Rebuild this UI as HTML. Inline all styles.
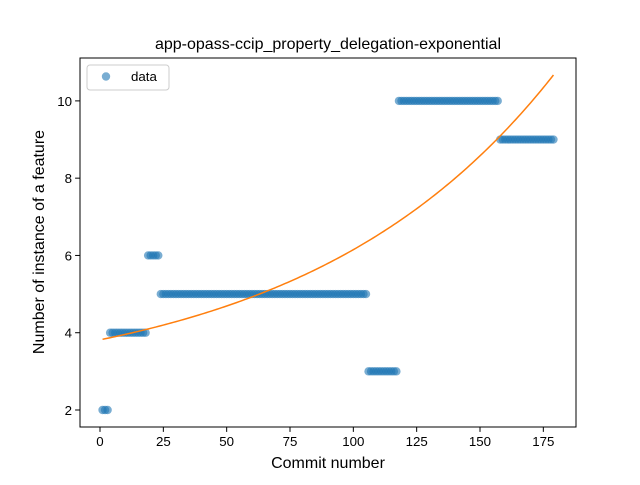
<!DOCTYPE html>
<html><head><meta charset="utf-8"><style>
html,body{margin:0;padding:0;background:#fff;}
svg text{font-family:"Liberation Sans","DejaVu Sans",sans-serif;fill:#000;}
</style></head><body>
<svg id="chart" width="640" height="480" xmlns="http://www.w3.org/2000/svg">
<rect width="640" height="480" fill="#fff"/>
<text x="328" y="49" font-size="16" text-anchor="middle">app-opass-ccip_property_delegation-exponential</text>
<g id="marks"></g>
<rect x="80" y="58" width="496" height="369" fill="none" stroke="#000" stroke-width="1"/>
<g id="axes"></g>
<text x="328" y="468" font-size="16" text-anchor="middle">Commit number</text>
<text transform="translate(44,242) rotate(-90)" font-size="16" text-anchor="middle">Number of instance of a feature</text>
<g>
<rect x="87" y="65" width="82" height="25" rx="3" fill="#fff" fill-opacity="0.8" stroke="#ccc"/>
<circle cx="106" cy="76.5" r="4.2" fill="#1f77b4" fill-opacity="0.6"/>
<text x="131" y="81" font-size="13.3">data</text>
</g>
</svg>
<script>
const segStarts=[1,4,19,24,106,118,158];
const segEnds=[3,18,23,105,117,157,179];
const segValues=[2,4,6,5,3,10,9];
const fitA=[1.316];
const fitB=[0.0102];
const fitC=[2.5];
const xTicks=[0,25,50,75,100,125,150,175];
const yTicks=[2,4,6,8,10];
const X0=-7.9,X1=187.9,Y0=1.56,Y1=11.11;
const L=80,R=576,T=58,B=427;
const sx=v=>L+(v-X0)/(X1-X0)*(R-L);
const sy=v=>B-(v-Y0)/(Y1-Y0)*(B-T);
const NS="http://www.w3.org/2000/svg";
const marks=document.getElementById('marks');
const axes=document.getElementById('axes');
function mk(tag,attrs,parent){const e=document.createElementNS(NS,tag);for(const k in attrs)e.setAttribute(k,attrs[k]);parent.appendChild(e);return e;}
for(let s=0;s<segStarts.length;s++){
  for(let x=segStarts[s];x<=segEnds[s];x++){
    const c=mk('circle',{cx:sx(x),cy:sy(segValues[s]),r:4.2,fill:'#1f77b4','fill-opacity':0.6},marks);
    
    
  }
}
let d='';
for(let x=1;x<=179;x++){const y=fitC[0]+fitA[0]*Math.exp(fitB[0]*x);d+=(x===1?'M':'L')+sx(x).toFixed(2)+','+sy(y).toFixed(2);}
const fl=mk('path',{d:d,fill:'none',stroke:'#ff7f0e','stroke-width':1.5},marks);


xTicks.forEach(t=>{
  const l=mk('line',{x1:sx(t),x2:sx(t),y1:B,y2:B+4.9,stroke:'#000'},axes);
  
  
  const tx=mk('text',{x:sx(t),y:B+19,'font-size':13.3,'text-anchor':'middle'},axes);
  tx.textContent=t;
  
  
});
yTicks.forEach(t=>{
  const l=mk('line',{x1:L-4.9,x2:L,y1:sy(t),y2:sy(t),stroke:'#000'},axes);
  
  
  const tx=mk('text',{x:L-8,y:sy(t)+5,'font-size':13.3,'text-anchor':'end'},axes);
  tx.textContent=t;
  
  
});
</script>
</body></html>
